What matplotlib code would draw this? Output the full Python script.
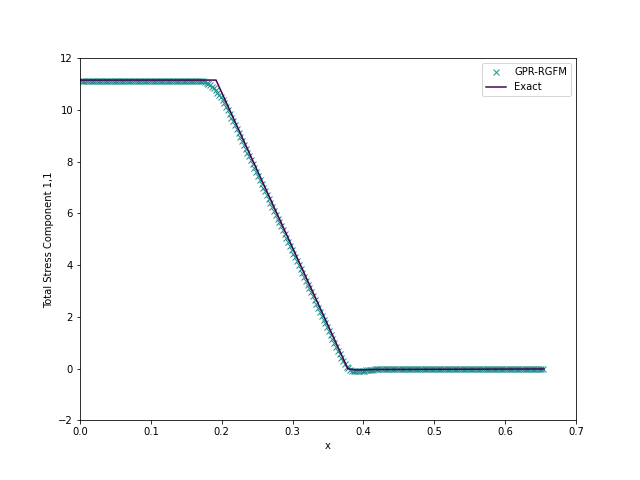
import matplotlib as mpl
mpl.use('Agg')
import matplotlib.pyplot as plt
import numpy as np

# GPR-RGFM solution (cell values, dx = 0.0025)
s11_left = 11.12   # left plateau, first 67 cells
n_left = 67
s11_ramp = [
    11.12, 11.11, 11.10, 11.07, 11.04, 11.00, 10.95, 10.89, 10.83, 10.75,
    10.67, 10.58, 10.48, 10.37, 10.25, 10.12, 9.99, 9.85,
    9.70, 9.55, 9.40, 9.25, 9.10, 8.95, 8.80, 8.65, 8.50, 8.35,
    8.20, 8.05, 7.90, 7.75, 7.60, 7.45, 7.30, 7.15, 7.00, 6.85,
    6.70, 6.55, 6.40, 6.25, 6.10, 5.95, 5.80, 5.65, 5.50, 5.35,
    5.20, 5.05, 4.90, 4.75, 4.60, 4.45, 4.30, 4.15, 4.00, 3.85,
    3.70, 3.55, 3.40, 3.25, 3.10, 2.95, 2.80, 2.65, 2.50, 2.35,
    2.20, 2.05, 1.90, 1.75, 1.60, 1.45, 1.30, 1.15, 1.00, 0.85,
    0.70, 0.55, 0.41, 0.28, 0.17, 0.08, 0.01, -0.04, -0.07, -0.08,
    -0.09, -0.09, -0.08, -0.08, -0.07, -0.07, -0.06, -0.06, -0.05, -0.04,
    -0.04, -0.03, -0.02, -0.02, -0.01, -0.01,
]
s11_right = 0.0    # right plateau, last 91 cells
n_right = 91

s11_num = np.concatenate([np.full(n_left, s11_left), s11_ramp,
                          np.full(n_right, s11_right)])
x_num = 0.00125 + 0.0025 * np.arange(len(s11_num))

# exact solution
x_exact = [0.0, 0.192, 0.378, 0.39, 0.42, 0.655]
s11_exact = [11.15, 11.15, 0.0, -0.05, -0.03, -0.01]

fig = plt.figure(figsize=(640 / 72, 480 / 72), dpi=72)
ax = fig.add_subplot(111)
fig.subplots_adjust(left=0.125, right=0.9, bottom=0.124, top=0.879)

ax.plot(x_num, s11_num, 'x', color='#21918c', markersize=6, markeredgewidth=1,
        label='GPR-RGFM')
ax.plot(x_exact, s11_exact, '-', color='#440154', linewidth=1.5, label='Exact')

ax.set_xlim(0, 0.7)
ax.set_ylim(-2, 12)
ax.set_xlabel('x')
ax.set_ylabel('Total Stress Component 1,1')
ax.legend(loc='upper right')

fig.savefig('out.png', dpi=72)
